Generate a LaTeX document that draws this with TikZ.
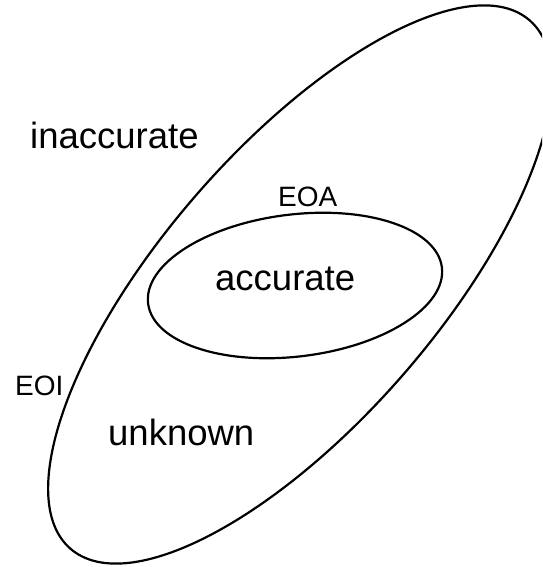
\documentclass[tikz,border=0pt]{standalone}
\usepackage{fontspec}
\setmainfont{Liberation Sans}
\usetikzlibrary{shapes.geometric}
\begin{document}
\begin{tikzpicture}[x=1pt,y=1pt,
  region/.style={draw=black, line width=2.2pt, ellipse, inner sep=0pt},
  biglabel/.style={anchor=base west, inner sep=0pt, font=\fontsize{36.5}{40}\selectfont},
  smalllabel/.style={anchor=base west, inner sep=0pt, font=\fontsize{28}{32}\selectfont}]
\useasboundingbox (0,0) rectangle (542,567);
\clip (0,0) rectangle (542,567);
\node[region, minimum width=700pt, minimum height=274pt, rotate=49] (eoi) at (300,282.5) {};
\node[region, minimum width=296pt, minimum height=142pt, rotate=7] (eoa) at (295,281.5) {};
\node[biglabel] (inacc) at (30,418) {inaccurate};
\node[biglabel] (acc) at (215,276) {accurate};
\node[biglabel] (unk) at (108,121) {unknown};
\node[smalllabel] (eoalabel) at (278,360) {EOA};
\node[smalllabel] (eoilabel) at (15,171) {EOI};
\end{tikzpicture}
\end{document}
